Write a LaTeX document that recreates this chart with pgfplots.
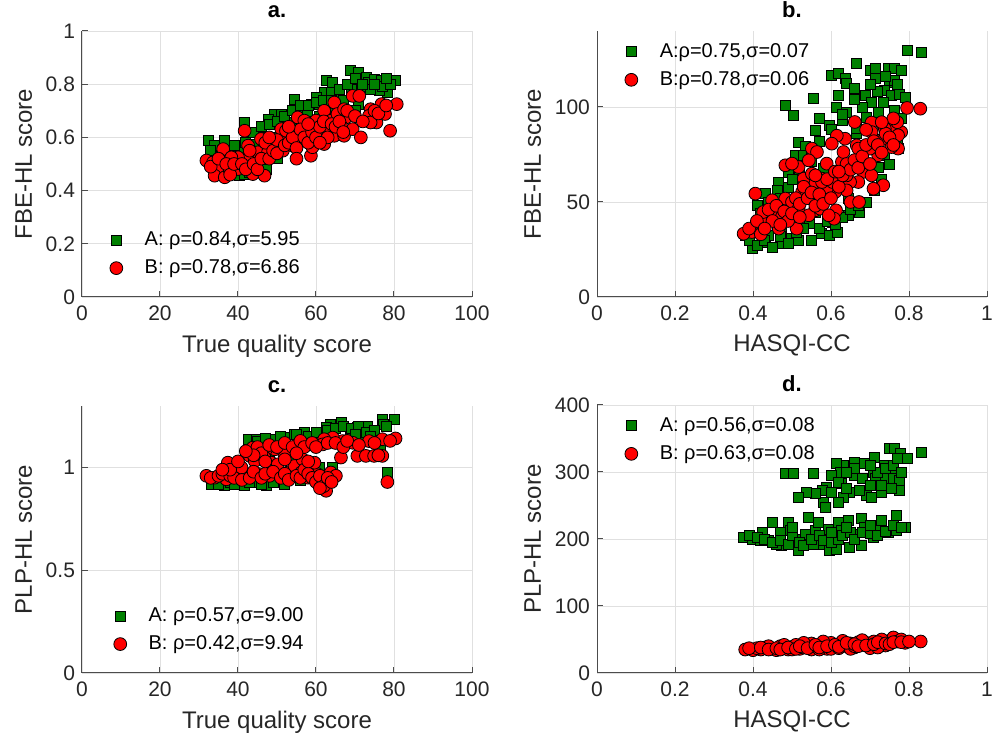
\documentclass[border=0pt]{standalone}
\usepackage{pgfplots}
\pgfplotsset{compat=1.18}
\usepackage{fontspec}
\setmainfont{Liberation Sans}
\definecolor{mgreen}{rgb}{0,0.5,0}
\definecolor{mred}{rgb}{1,0,0}
\definecolor{axgray}{rgb}{0.3,0.3,0.3}
\definecolor{txtgray}{rgb}{0.15,0.15,0.15}
\pgfplotsset{
  myaxis/.style={
    scale only axis, width=195pt, height=133pt,
    axis x line*=bottom, axis y line*=left,
    axis line style={-, color=axgray, line width=0.5pt},
    grid=major, grid style={color=black!12, line width=0.4pt},
    tick style={color=axgray, line width=0.5pt}, tick align=inside, major tick length=3pt,
    ticklabel style={font=\fontsize{10.5}{12}\selectfont, color=txtgray},
    label style={font=\fontsize{12}{14}\selectfont, color=txtgray},
    title style={font=\bfseries\fontsize{11}{13}\selectfont, yshift=-3pt},
    legend style={draw=none, fill=none, font=\fontsize{10}{12}\selectfont, row sep=1.5pt, inner sep=2pt},
    legend cell align=left,
    legend image code/.code={\path (-6pt,0pt) (12pt,0pt); \draw[##1,only marks] plot coordinates {(0pt,0pt)};},
    /pgf/number format/assume math mode=true,
    xticklabel style={yshift=-1pt},
  },
  gA/.style={only marks, mark=square*, mark size=2.5pt, mark options={fill=mgreen, draw=black, line width=0.4pt}},
  rB/.style={only marks, mark=*, mark size=3.2pt, mark options={fill=mred, draw=black, line width=0.4pt}},
}
\begin{document}
\begin{tikzpicture}
\path[use as bounding box] (0pt,0pt) rectangle (496.5pt,371pt);
% ---------- a ----------
\begin{axis}[myaxis, at={(41pt,222.5pt)}, anchor=south west,
  xmin=0, xmax=100, ymin=0, ymax=1, xtick={0,20,...,100}, ytick={0,0.2,...,1},
  yticklabels={0,0.2,0.4,0.6,0.8,1},
  title={a.}, xlabel={True quality score}, ylabel={FBE-HL score},
  legend style={at={(0.045,0.045)}, anchor=south west}]
\addplot[gA] coordinates {
(32.3,0.588)(36.6,0.588)(33.2,0.54)(40,0.556)(41.7,0.656)(40.4,0.456)(45.9,0.631)(49.4,0.688)
(51.1,0.688)(54.5,0.744)(56.2,0.713)(58.7,0.725)(62.1,0.769)(62.6,0.813)(64.3,0.806)(66,0.763)
(68.7,0.85)(70.9,0.844)(73,0.825)(73.4,0.806)(75.1,0.819)(76.8,0.813)(80.3,0.813)(78.3,0.769)
(76.2,0.775)(69.1,0.781)(70.9,0.725)(57.9,0.694)(52.8,0.656)(47.7,0.669)(43.8,0.619)(47.2,0.481)
(44,0.575)(37.4,0.525)(34,0.569)(66.4,0.731)(60.9,0.725)(56.2,0.619)(51.1,0.588)(41.7,0.462)
(35,0.5)(38,0.49)(42,0.52)(45,0.53)(48,0.56)(50,0.6)(53,0.62)(55,0.64)(58,0.66)(61,0.68)
(63,0.7)(65,0.7)(67,0.74)(72,0.79)(74,0.78)(77,0.79)(79,0.8)(60,0.75)(64,0.77)(46,0.6)
(33,0.55)(36,0.55)(39,0.57)(42,0.58)(44,0.62)(46,0.64)(48,0.65)(50,0.66)(52,0.68)(54,0.7)
(56,0.72)(58,0.72)(60,0.73)(62,0.74)(64,0.74)(66,0.78)(68,0.8)(70,0.82)(72,0.8)(75,0.8)
(78,0.82)(45,0.5)(50,0.52)(55,0.6)(60,0.62)(65,0.68)(70,0.7)(38,0.47)(43,0.47)
};
\addlegendentry{A: ρ=0.84,σ=5.95}
\addplot[rB] coordinates {
(31.9,0.513)(33.6,0.506)(34.9,0.488)(34,0.456)(36.6,0.45)(36.2,0.556)(37.9,0.475)(40,0.481)
(41.7,0.625)(43,0.525)(43.8,0.462)(45.9,0.594)(46.8,0.456)(45.1,0.544)(51.1,0.631)(49.4,0.575)
(51.5,0.55)(54,0.569)(55.3,0.675)(57,0.663)(58.7,0.531)(59.1,0.563)(60,0.663)(61.7,0.606)
(62.1,0.575)(62.1,0.7)(64.7,0.606)(64.7,0.731)(67.2,0.606)(67.7,0.675)(69.4,0.631)(69.4,0.756)
(71.1,0.756)(71.5,0.6)(74,0.706)(73.6,0.681)(75.5,0.656)(76.8,0.725)(77.7,0.688)(79,0.625)
(80.7,0.725)(74,0.656)(66.4,0.644)(63.9,0.663)(56.2,0.6)(52.8,0.6)(40,0.525)(42.6,0.569)
(38.3,0.525)(47.7,0.544)(52.3,0.625)(65.5,0.688)(67.2,0.706)(63,0.631)
(33,0.49)(35,0.52)(37,0.5)(38,0.46)(39,0.5)(41,0.5)(42,0.48)(44,0.5)(45,0.48)(46,0.52)
(47,0.58)(48,0.52)(49,0.55)(50,0.59)(50,0.54)(52,0.57)(53,0.58)(54,0.6)(55,0.56)(56,0.63)
(57,0.6)(58,0.58)(59,0.62)(60,0.6)(61,0.64)(62,0.66)(63,0.6)(64,0.65)(65,0.64)(66,0.66)
(67,0.62)(68,0.7)(70,0.68)(72,0.66)(75,0.7)(76,0.69)(78,0.72)(43,0.55)(48,0.6)(53,0.64)
(58,0.65)(61,0.58)(55,0.52)
};
\addlegendentry{B: ρ=0.78,σ=6.86}
\end{axis}
% ---------- b ----------
\begin{axis}[myaxis, at={(298.5pt,222.5pt)}, anchor=south west,
  xmin=0, xmax=1, ymin=0, ymax=140, xtick={0,0.2,...,1}, ytick={0,50,100},
  xticklabels={0,0.2,0.4,0.6,0.8,1},
  title={b.}, xlabel={HASQI-CC}, ylabel={FBE-HL score},
  legend style={at={(0.045,0.985)}, anchor=north west}]
\addplot[gA] coordinates {
(0.797,129.8)(0.831,128.6)(0.666,122.8)(0.602,116.7)(0.619,117.5)(0.636,114.9)(0.64,112.3)(0.7,119.3)
(0.713,120.2)(0.747,120.2)(0.763,120.2)(0.78,119.3)(0.713,114.9)(0.751,113.2)(0.763,114)(0.738,108.8)
(0.755,106.1)(0.776,106.8)(0.687,106.1)(0.555,104.4)(0.483,100.9)(0.504,95.6)(0.613,100)(0.64,97.4)
(0.704,102.6)(0.734,102.6)(0.763,98.2)(0.569,93.9)(0.595,90.4)(0.628,93)(0.666,86)(0.559,87.7)
(0.517,81.6)(0.534,79)(0.508,74.6)(0.53,74.3)(0.492,65.8)(0.466,60.5)(0.492,57.9)(0.432,54.4)
(0.411,48.2)(0.462,56.1)(0.381,32.5)(0.398,25.4)(0.432,28.9)(0.47,28.1)(0.496,30.7)(0.517,29.8)
(0.44,32.5)(0.474,34.2)(0.545,38.6)(0.575,33.3)(0.596,32.5)(0.617,34.2)(0.604,39.4)(0.645,43)
(0.672,44.7)(0.559,44.7)(0.577,57)(0.619,58.8)(0.551,71.1)(0.58,67.5)(0.721,68.4)(0.738,74.6)
(0.772,78.1)(0.747,85.1)(0.666,88.6)(0.692,94.7)(0.721,97.4)(0.415,36)(0.449,42.1)(0.645,51.8)
(0.39,30)(0.41,27)(0.43,30)(0.45,26)(0.47,32)(0.49,28)(0.51,34)(0.53,36)(0.55,30)(0.57,36)
(0.59,40)(0.61,38)(0.63,42)(0.65,46)(0.67,48)(0.69,50)(0.71,56)(0.73,62)(0.75,70)(0.77,80)
(0.78,94)(0.79,105)(0.77,112)(0.74,116)(0.72,108)(0.68,100)(0.66,104)(0.63,96)(0.6,88)(0.57,82)
(0.55,76)(0.52,66)(0.5,62)(0.47,52)(0.44,50)(0.42,44)(0.7,112)(0.66,110)(0.62,106)
};
\addlegendentry{A:ρ=0.75,σ=0.07}
\addplot[rB] coordinates {
(0.829,99.1)(0.795,99.5)(0.661,92.1)(0.704,91.8)(0.734,90.4)(0.759,90)(0.78,86.8)(0.772,78.1)
(0.734,83.3)(0.704,86.8)(0.666,79.8)(0.636,83.3)(0.615,84.9)(0.602,80.7)(0.551,78.1)(0.564,76.3)
(0.589,70.2)(0.628,71.1)(0.67,78.1)(0.721,74.6)(0.683,65.8)(0.704,64)(0.734,58.8)(0.709,57)
(0.67,60.5)(0.649,60.5)(0.64,56.1)(0.611,55.3)(0.589,57)(0.56,60.5)(0.53,62.3)(0.517,68.4)
(0.483,69.3)(0.5,70.2)(0.551,64.9)(0.577,62.3)(0.526,55.3)(0.483,51.8)(0.5,50)(0.449,50.9)
(0.406,54.4)(0.45,43)(0.474,42.1)(0.466,36)(0.432,38.6)(0.397,34.2)(0.376,33.3)(0.426,44.7)
(0.512,36)(0.517,46.5)(0.559,45.6)(0.572,46.5)(0.613,45.6)(0.608,41.2)(0.65,50)(0.672,50)
(0.568,51.8)(0.543,43)(0.594,43)(0.64,64)(0.604,60.5)(0.543,71.9)(0.7,78.1)(0.755,78.9)
(0.772,85.1)(0.738,88.6)(0.632,76.3)(0.577,60.5)
(0.39,36)(0.41,40)(0.42,33)(0.44,46)(0.45,40)(0.46,48)(0.48,45)(0.49,40)(0.5,44)(0.51,52)
(0.52,49)(0.53,58)(0.54,52)(0.55,55)(0.56,48)(0.57,54)(0.58,49)(0.59,62)(0.6,52)(0.61,66)
(0.62,58)(0.63,64)(0.64,70)(0.65,67)(0.66,72)(0.67,68)(0.68,74)(0.69,80)(0.7,70)(0.71,82)
(0.72,80)(0.73,76)(0.74,86)(0.75,84)(0.76,80)(0.77,92)(0.76,94)(0.73,92)(0.69,88)(0.62,66)
(0.56,64)(0.52,42)(0.47,38)(0.43,36)
};
\addlegendentry{B:ρ=0.78,σ=0.06}
\end{axis}
% ---------- c ----------
\begin{axis}[myaxis, at={(41pt,34.5pt)}, anchor=south west, height=133.5pt,
  xmin=0, xmax=100, ymin=0, ymax=1.3, xtick={0,20,...,100}, ytick={0,0.5,1},
  yticklabels={0,0.5,1},
  title={c.}, xlabel={True quality score}, ylabel={PLP-HL score},
  legend style={at={(0.055,0.045)}, anchor=south west}]
\addplot[gA] coordinates {
(80,1.235)(77,1.235)(77.4,1.21)(73.2,1.202)(70.6,1.194)(66.4,1.218)(63.8,1.21)(62.6,1.194)
(61.3,1.17)(54.5,1.162)(57,1.17)(51.9,1.146)(49.4,1.138)(42.6,1.138)(44.7,1.138)(78.3,0.976)
(33.2,0.919)(36.6,0.911)(41.7,0.911)(47.2,0.911)(59.1,1)(60.9,1)(64.3,1)(74.9,1.138)
(76.6,1.105)(68.7,1.17)(59.6,1.121)(46.8,1.113)(48.1,1.081)(53.6,1.049)(38,0.93)(44,0.93)
(50,0.94)(55,0.95)(62,0.95)(66,1.12)(72,1.16)(58,1.14)
(35,0.92)(39,0.92)(43,0.93)(46,0.92)(49,0.93)(52,0.92)(56,0.94)(60,0.94)(62,0.93)(64,0.95)
(45,1.13)(47,1.14)(51,1.15)(55,1.16)(58,1.15)(60,1.17)(63,1.18)(65,1.19)(67,1.2)(69,1.19)
(71,1.2)(73,1.17)(75,1.18)(78,1.2)(74,1.15)(70,1.16)
};
\addlegendentry{A: ρ=0.57,σ=9.00}
\addplot[rB] coordinates {
(80.4,1.142)(77,1.138)(73.6,1.129)(69.4,1.121)(66.8,1.129)(64.3,1.146)(62.1,1.138)(61.7,1.113)
(58.3,1.113)(55.3,1.113)(53.2,1.089)(51.9,1.065)(49.4,1.089)(47.2,1.089)(43.8,1.097)(43,1.057)
(44.3,1.032)(46.8,1.049)(48.5,1.024)(40,1.016)(37.4,1.024)(37,0.984)(31.9,0.96)(34,0.951)
(37,0.943)(40,0.951)(42.6,0.96)(45.5,0.968)(48.1,0.96)(50.6,0.968)(52.8,0.976)(54.5,1.008)
(56.2,0.976)(57.9,0.951)(60.4,0.968)(62.1,0.927)(62.6,0.887)(63.8,0.976)(66.4,1.049)(70.6,1.057)
(72.8,1.057)(74.9,1.057)(77,1.057)(78.3,0.93)(59.6,1.024)(65.1,0.96)(56.6,1.04)(40.9,1)
(50.2,1.016)
(33,0.95)(35,0.96)(36,0.97)(38,0.96)(39,0.95)(41,0.94)(43,0.95)(44,0.98)(46,0.95)(47,0.97)
(49,0.98)(51,0.95)(52,0.97)(53,0.94)(55,0.96)(56,0.95)(57,0.99)(58,0.97)(59,0.95)(60,0.93)
(61,0.96)(62,0.91)(63,0.95)(64,0.93)(61,0.9)(45,1.1)(46,1.07)(48,1.11)(50,1.1)(52,1.12)
(54,1.1)(56,1.13)(57,1.1)(59,1.12)(60,1.1)(63,1.12)(65,1.12)(67,1.1)(68,1.13)(71,1.11)
(75,1.12)(76,1.06)(79,1.13)(44,1.06)(42,1.08)(38,0.99)(36,0.99)(40,1.03)(47,1.03)(52,1.04)
(55,1.07)(58,1.03)
};
\addlegendentry{B: ρ=0.42,σ=9.94}
\end{axis}
% ---------- d ----------
\begin{axis}[myaxis, at={(298.5pt,34.5pt)}, anchor=south west, height=134pt,
  xmin=0, xmax=1, ymin=0, ymax=400, xtick={0,0.2,...,1}, ytick={0,100,...,400},
  xticklabels={0,0.2,0.4,0.6,0.8,1},
  title={d.}, xlabel={HASQI-CC}, ylabel={PLP-HL score},
  legend style={at={(0.045,0.985)}, anchor=north west}]
\addplot[gA] coordinates {
(0.483,298.5)(0.504,298.5)(0.555,298.5)(0.831,328.5)(0.75,335)(0.762,335)(0.779,327.5)(0.797,320)
(0.712,322.5)(0.686,312.5)(0.661,315)(0.631,310)(0.614,312.5)(0.738,310)(0.759,302.5)(0.708,300)
(0.623,300)(0.602,295)(0.735,290)(0.759,290)(0.776,287.5)(0.714,290)(0.627,282.5)(0.589,277.5)
(0.577,272.5)(0.776,272.5)(0.755,275)(0.729,270)(0.691,265)(0.674,272.5)(0.648,270)(0.631,262.5)
(0.618,255)(0.58,255)(0.585,247.5)(0.559,267.5)(0.538,270)(0.517,262.5)(0.704,262.5)
(0.376,202.5)(0.398,200)(0.419,197.5)(0.44,197.5)(0.449,225)(0.474,190)(0.492,225)(0.496,212.5)
(0.517,182.5)(0.538,192.5)(0.542,232.5)(0.559,212.5)(0.576,192.5)(0.593,215)(0.597,182.5)(0.614,185)
(0.619,225)(0.644,227.5)(0.648,187.5)(0.661,207.5)(0.678,190)(0.678,230)(0.708,202.5)(0.725,215)
(0.729,227.5)(0.746,210)(0.767,212.5)(0.767,235)(0.791,217.5)(0.47,210)(0.423,210)(0.534,207.5)
(0.568,225)(0.627,212.5)(0.686,217.5)(0.461,192.5)(0.508,200)(0.555,192.5)
(0.39,205)(0.41,203)(0.43,200)(0.45,195)(0.47,198)(0.49,192)(0.5,205)(0.52,195)(0.53,190)(0.55,200)
(0.57,205)(0.58,198)(0.6,195)(0.62,200)(0.63,205)(0.65,210)(0.66,200)(0.68,210)(0.7,208)(0.72,205)
(0.74,212)(0.76,220)(0.78,218)(0.6,210)(0.64,218)(0.7,220)(0.5,218)
(0.6,270)(0.62,285)(0.64,275)(0.66,295)(0.68,290)(0.7,280)(0.72,300)(0.74,305)(0.76,310)(0.78,300)
(0.66,305)(0.64,300)(0.7,310)(0.73,280)(0.77,320)
};
\addlegendentry{A: ρ=0.56,σ=0.08}
\addplot[rB] coordinates {
(0.38,35)(0.40,34)(0.42,35)(0.43,38)(0.45,36)(0.46,34)(0.47,40)(0.48,37)(0.49,35)(0.50,39)
(0.51,42)(0.52,36)(0.53,38)(0.54,41)(0.55,44)(0.56,37)(0.57,40)(0.58,42)(0.59,36)(0.60,45)
(0.61,39)(0.62,43)(0.63,46)(0.64,40)(0.65,44)(0.66,38)(0.67,46)(0.68,42)(0.69,45)(0.70,40)
(0.71,47)(0.72,43)(0.73,45)(0.74,41)(0.75,48)(0.76,53)(0.77,47)(0.78,50)(0.79,45)(0.83,47)
(0.44,40)(0.50,35)(0.55,35)(0.60,36)(0.65,36)(0.70,37)(0.53,45)(0.58,47)(0.63,48)(0.68,49)
(0.73,50)(0.57,35)(0.62,37)(0.66,40)(0.72,38)(0.48,42)(0.41,37)
(0.39,37)(0.42,38)(0.44,35)(0.46,37)(0.47,35)(0.49,38)(0.51,36)(0.52,40)(0.54,37)(0.56,42)
(0.57,38)(0.59,40)(0.61,42)(0.62,39)(0.64,45)(0.66,43)(0.67,40)(0.69,41)(0.71,43)(0.72,46)
(0.74,44)(0.75,43)(0.76,46)(0.78,46)(0.8,47)
};
\addlegendentry{B: ρ=0.63,σ=0.08}
\end{axis}
\end{tikzpicture}
\end{document}
